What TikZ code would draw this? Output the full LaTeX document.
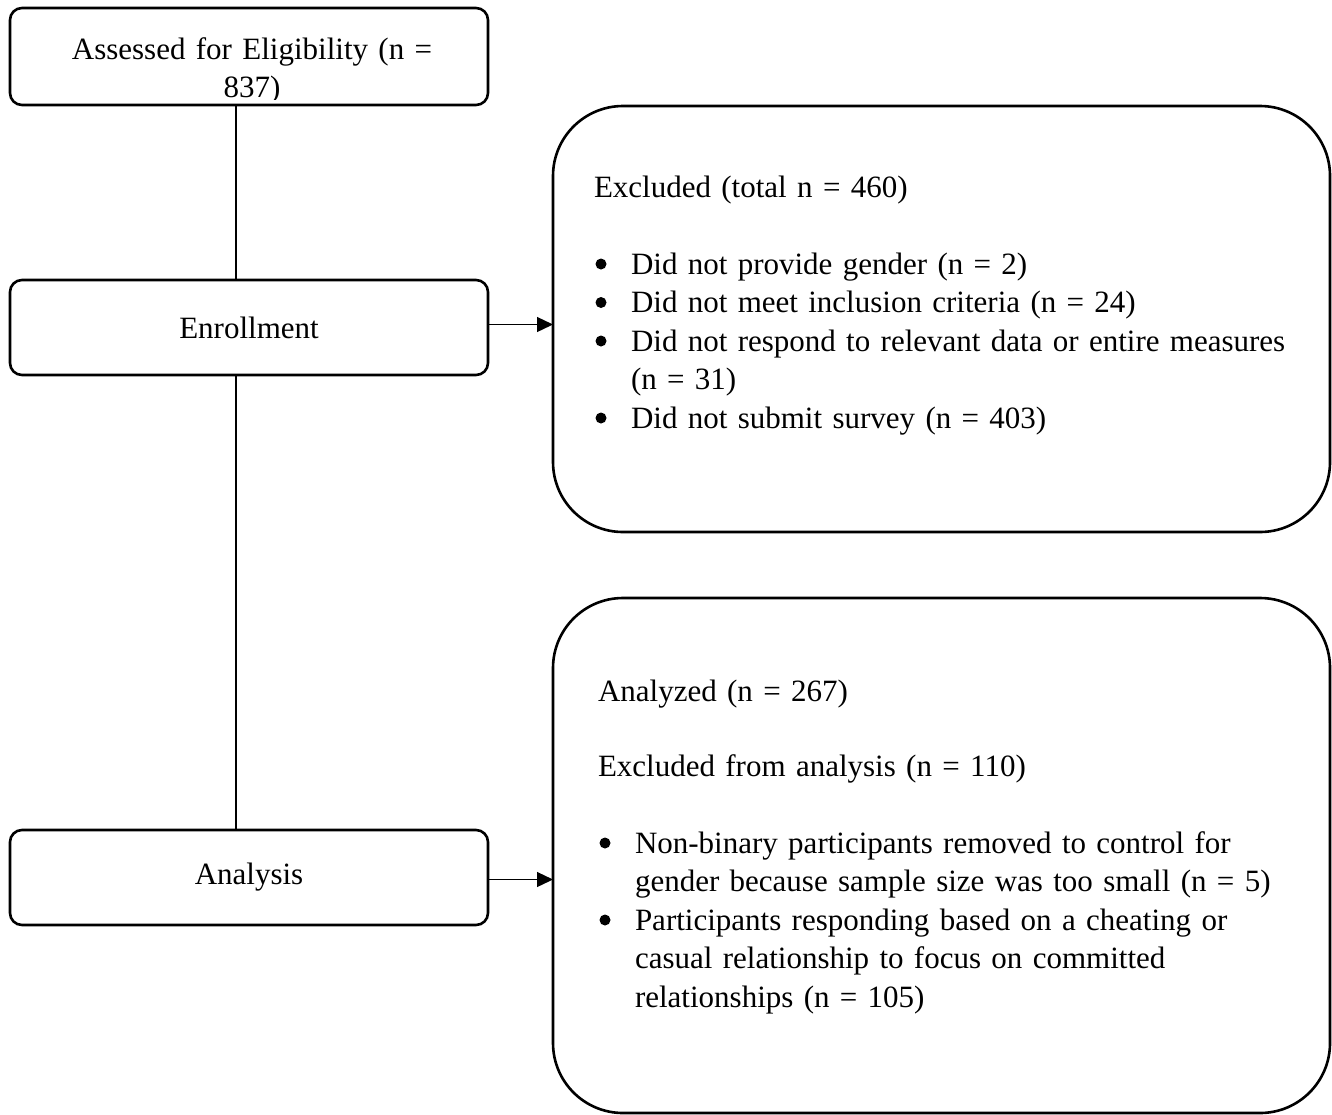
\documentclass[tikz,border=0pt]{standalone}
\usepackage{fontspec}
\setmainfont{Liberation Serif}
\usetikzlibrary{arrows.meta,calc}

\newcommand{\letra}{\fontsize{31}{38.5}\selectfont}
\tikzset{
	caja/.style={draw=black, line width=2.6pt, rounded corners=12pt,	%%%%	Cajas de la izquierda
		inner sep=0pt, outer sep=0pt, minimum width=478pt},
	cajagrande/.style={draw=black, line width=2.6pt, rounded corners=70pt,	%%	Cajas de la derecha
		inner sep=0pt, outer sep=0pt, minimum width=777pt},
	texto/.style={font=\letra, inner sep=0pt, outer sep=0pt},
	linea/.style={line width=1.3pt, black},
	flecha/.style={line width=1.3pt, black, -{Triangle[length=16pt,width=15pt]}}
}
\newcommand{\bolita}{\tikz[x=1pt,y=1pt,baseline=0pt]\fill (0,10) circle (5.5);}
\newcommand{\salto}{\hfil\break}
\newcommand{\punto}[1]{\noindent\hangindent=37pt\hbox to 37pt{\kern1.5pt\bolita\hss}#1\par}

\begin{document}
\begin{tikzpicture}[x=1pt,y=-1pt]
\useasboundingbox (0,0) rectangle (1332,1114);

%%%%%%%%%%%%%%%%%%%%%%%%%%%%%%%%%%%%%%%%%%%%%%%% 	CAJAS IZQUIERDA
\node[caja, minimum height=97pt] (assess) at (249,56.5) {};
\begin{scope}
\clip (10,8) rectangle (488,99.5);		%%%%	El texto se corta en el borde
\node[texto, text width=478pt, align=center, anchor=base] (assesstxt) at (252,59)
	{Assessed for Eligibility (n =\\ 837)};
\end{scope}

\node[caja, minimum height=95pt, texto] (enroll) at (249,327.5) {Enrollment};
\node[caja, minimum height=95pt, texto] (analysis) at (249,877.5) {Analysis};

%%%%%%%%%%%%%%%%%%%%%%%%%%%%%%%%%%%%%%%%%%%%%%%% 	CAJAS DERECHA
\node[cajagrande, minimum height=426pt] (excl) at (941.5,319) {};
\node[cajagrande, minimum height=515pt] (anlz) at (941.5,855.5) {};

\node[texto, text width=720pt, anchor=base west] (excltxt) at (594,197) {%
	\rightskip=0pt plus 1fil
	\noindent Excluded (total n = 460)\par\vspace{38.5pt}
	\punto{Did not provide gender (n = 2)}
	\punto{Did not meet inclusion criteria (n = 24)}
	\punto{Did not respond to relevant data or entire measures\salto(n = 31)}
	\punto{Did not submit survey (n = 403)}};

\node[texto, text width=700pt, anchor=base west] (anlztxt) at (598,701) {%
	\rightskip=0pt plus 1fil
	\noindent Analyzed (n = 267)\par\vspace{36.5pt}
	\noindent Excluded from analysis (n = 110)\par\vspace{38.5pt}
	\punto{Non-binary participants removed to control for\salto gender because sample size was too small (n = 5)}
	\punto{Participants responding based on a cheating or\salto casual relationship to focus on committed\salto relationships (n = 105)}};

%%%%%%%%%%%%%%%%%%%%%%%%%%%%%%%%%%%%%%%%%%%%%%%% 	CONECTORES
\draw[linea] ([xshift=-13pt]assess.south) -- ([xshift=-13pt]enroll.north);
\draw[linea] ([xshift=-13pt]enroll.south) -- ([xshift=-13pt]analysis.north);
\draw[flecha] ([yshift=3pt]enroll.east) -- ([yshift=3pt]enroll.east -| excl.west);
\draw[flecha] ([yshift=-2pt]analysis.east) -- ([yshift=-2pt]analysis.east -| anlz.west);

\end{tikzpicture}
\end{document}
